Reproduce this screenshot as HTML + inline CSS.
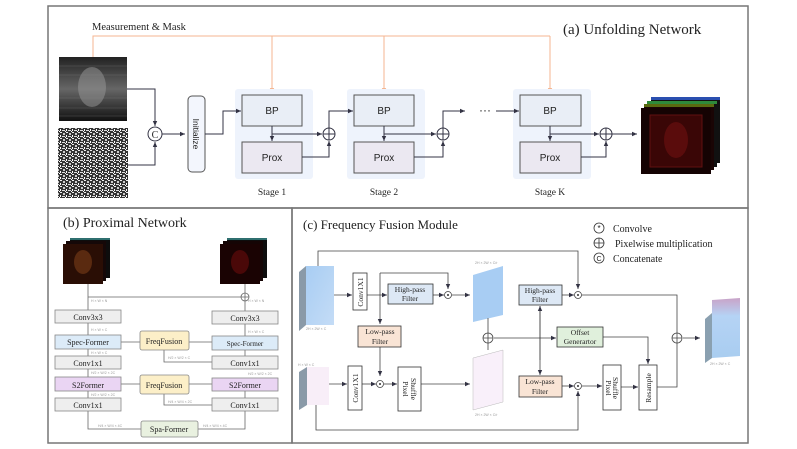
<!DOCTYPE html>
<html><head><meta charset="utf-8"><style>
html,body{margin:0;padding:0;background:#fff;}
svg{display:block}
.s{font-family:"Liberation Serif",serif;fill:#222}
.a{font-family:"Liberation Sans",sans-serif;fill:#222}
.t{font-family:"Liberation Sans",sans-serif;fill:#999;font-size:3.5px}
</style></head><body>
<svg width="797" height="449" viewBox="0 0 797 449" xmlns="http://www.w3.org/2000/svg">
<defs>
<marker id="ar" markerWidth="6" markerHeight="6" refX="5" refY="3" orient="auto" markerUnits="userSpaceOnUse"><path d="M0,0.8 L5,3 L0,5.2z" fill="#334"/></marker>
<marker id="ao" markerWidth="6" markerHeight="6" refX="5" refY="3" orient="auto" markerUnits="userSpaceOnUse"><path d="M0,0.8 L5,3 L0,5.2z" fill="#f4b590"/></marker>
<linearGradient id="dk" x1="0" y1="0" x2="0" y2="1"><stop offset="0" stop-color="#222"/><stop offset="0.5" stop-color="#666"/><stop offset="1" stop-color="#111"/></linearGradient>
<pattern id="nz" width="6" height="6" patternUnits="userSpaceOnUse"><rect width="6" height="6" fill="#333"/><rect width="2" height="1" fill="#eee"/><rect x="3" y="1" width="2" height="2" fill="#ccc"/><rect x="0" y="3" width="1" height="2" fill="#fff"/><rect x="2" y="4" width="3" height="1" fill="#ddd"/><rect x="5" y="5" width="1" height="1" fill="#fff"/></pattern>
<linearGradient id="bl" x1="0" y1="0" x2="1" y2="1"><stop offset="0" stop-color="#a8cdf3"/><stop offset="1" stop-color="#c4dcf6"/></linearGradient>
<linearGradient id="out" x1="0" y1="0" x2="0" y2="1"><stop offset="0" stop-color="#c9a3c8"/><stop offset="0.3" stop-color="#b5d3f5"/><stop offset="1" stop-color="#a9cdf0"/></linearGradient>
</defs>
<g fill="none" stroke="#777" stroke-width="1.5">
<rect x="48" y="6" width="700" height="202"/>
<rect x="48" y="208" width="244" height="235"/>
<rect x="292" y="208" width="456" height="235"/>
</g>
<!-- (a) -->
<text x="92" y="30" class="s" font-size="10.5">Measurement &amp; Mask</text>
<text x="563" y="34" class="s" font-size="15">(a) Unfolding  Network</text>
<g stroke="#f4b590" stroke-width="1" fill="none">
<path d="M93,57 V36 H550"/>
<path d="M272,36 V93" marker-end="url(#ao)"/>
<path d="M384,36 V93" marker-end="url(#ao)"/>
<path d="M550,36 V93" marker-end="url(#ao)"/>
</g>
<rect x="59" y="57" width="68" height="64" fill="url(#dk)"/>
<ellipse cx="92" cy="87" rx="14" ry="20" fill="#999" opacity="0.5"/>
<g stroke="#888" stroke-width="0.6" opacity="0.5"><path d="M59,66 H127 M59,75 H127 M59,98 H127 M59,108 H127 M59,116 H127"/></g>
<rect x="58" y="128" width="70" height="70" fill="url(#nz)"/>
<rect x="235" y="89" width="78" height="90" rx="3" fill="#eef3fc"/>
<rect x="347" y="89" width="78" height="90" rx="3" fill="#eef3fc"/>
<rect x="513" y="89" width="78" height="90" rx="3" fill="#eef3fc"/>
<g stroke="#555" stroke-width="1">
<rect x="188" y="96" width="17" height="76" rx="4" fill="#f3f6fd"/>
<rect x="242" y="95" width="60" height="31" fill="#e9eef6"/>
<rect x="242" y="142" width="60" height="31" fill="#ebe8f1"/>
<rect x="354" y="95" width="60" height="31" fill="#e9eef6"/>
<rect x="354" y="142" width="60" height="31" fill="#ebe8f1"/>
<rect x="520" y="95" width="61" height="31" fill="#e9eef6"/>
<rect x="520" y="142" width="61" height="31" fill="#ebe8f1"/>
</g>
<g class="a" font-size="10" text-anchor="middle">
<text x="272" y="114">BP</text><text x="272" y="161">Prox</text>
<text x="384" y="114">BP</text><text x="384" y="161">Prox</text>
<text x="550" y="114">BP</text><text x="550" y="161">Prox</text>
</g>
<text transform="translate(193,134) rotate(90)" class="a" font-size="8.5" text-anchor="middle">Initialize</text>
<g class="s" font-size="9.5" text-anchor="middle">
<text x="272" y="195">Stage 1</text><text x="384" y="195">Stage 2</text><text x="550" y="195">Stage K</text>
</g>
<g stroke="#334" stroke-width="1" fill="none">
<path d="M127,89 H155 V126" marker-end="url(#ar)"/>
<path d="M128,165 H155 V142" marker-end="url(#ar)"/>
<path d="M162,134 H185" marker-end="url(#ar)"/>
<path d="M205,134 H223 V111 H241" marker-end="url(#ar)"/>
<path d="M272,126 V141" marker-end="url(#ar)"/>
<path d="M272,134 H322" marker-end="url(#ar)"/>
<path d="M302,157 H329 V141" marker-end="url(#ar)"/>
<path d="M329,128 V111 H353" marker-end="url(#ar)"/>
<path d="M384,126 V141" marker-end="url(#ar)"/>
<path d="M384,134 H436" marker-end="url(#ar)"/>
<path d="M414,157 H443 V141" marker-end="url(#ar)"/>
<path d="M443,128 V111 H465" marker-end="url(#ar)"/>
<path d="M496,111 H519" marker-end="url(#ar)"/>
<path d="M550,126 V141" marker-end="url(#ar)"/>
<path d="M550,134 H599" marker-end="url(#ar)"/>
<path d="M581,157 H606 V141" marker-end="url(#ar)"/>
<path d="M612,134 H637" marker-end="url(#ar)"/>
<circle cx="155" cy="134" r="7" fill="#fff"/>
<circle cx="329" cy="134" r="6" fill="#fff"/><path d="M323,134 H335 M329,128 V140"/>
<circle cx="443" cy="134" r="6" fill="#fff"/><path d="M437,134 H449 M443,128 V140"/>
<circle cx="606" cy="134" r="6" fill="#fff"/><path d="M600,134 H612 M606,128 V140"/>
</g>
<text x="155" y="138" class="s" font-size="10" text-anchor="middle">C</text>
<text x="485" y="114" class="a" font-size="12" text-anchor="middle">···</text>
<g>
<rect x="651" y="97" width="69" height="66" fill="#111"/><rect x="651" y="97" width="69" height="3" fill="#2a4fb0"/>
<rect x="647" y="101" width="70" height="66" fill="#111"/><rect x="647" y="101" width="70" height="3" fill="#2e8a3a"/>
<rect x="644" y="104" width="70" height="66" fill="#1a0505"/><rect x="644" y="104" width="70" height="3" fill="#5a6a10"/>
<rect x="641" y="108" width="70" height="66" fill="#150303"/>
<rect x="650" y="115" width="52" height="52" fill="#3a0606" stroke="#601010"/>
<ellipse cx="676" cy="140" rx="12" ry="18" fill="#5a0c0c"/>
</g>
<!-- (b) -->
<text x="63" y="227" class="s" font-size="14">(b) Proximal Network</text>
<g>
<rect x="70" y="238" width="40" height="40" fill="#0d0d0d"/><rect x="70" y="238" width="40" height="2" fill="#2f6f6f"/>
<rect x="66" y="241" width="40" height="40" fill="#150808"/>
<rect x="63" y="244" width="40" height="40" fill="#2a0e05"/><ellipse cx="83" cy="262" rx="9" ry="12" fill="#5a2a10"/>
<rect x="227" y="238" width="40" height="40" fill="#0d0d0d"/><rect x="227" y="238" width="40" height="2" fill="#2f6f6f"/>
<rect x="223" y="241" width="40" height="40" fill="#150505"/>
<rect x="220" y="244" width="40" height="40" fill="#1a0303"/><ellipse cx="240" cy="262" rx="9" ry="12" fill="#4a0808"/>
</g>
<g stroke="#666" stroke-width="0.8" fill="none">
<path d="M88,284 V310 M88,297 H241 M245,293 V284"/>
<circle cx="245" cy="297" r="4" fill="#fff"/><path d="M241,297 H249 M245,293 V301 M245,301 V312"/>
<path d="M88,323 V335 M88,349 V356 M88,369 V377 M88,391 V398 M88,411 V429 H141 M198,429 H245 V411"/>
<path d="M121,342 H140 M189,342 H212 M164,350 V362 H212 M245,356 V350 M245,324 V336 M245,391 V398"/>
<path d="M121,384 H140 M189,384 H212 M164,394 V405 H212"/>
</g>
<g stroke="#888" stroke-width="0.8">
<rect x="55" y="310" width="66" height="13" fill="#eeeeee"/>
<rect x="55" y="335" width="66" height="14" fill="#dcebf8"/>
<rect x="55" y="356" width="66" height="13" fill="#eeeeee"/>
<rect x="55" y="377" width="66" height="14" fill="#ead5f3"/>
<rect x="55" y="398" width="66" height="13" fill="#eeeeee"/>
<rect x="212" y="311" width="66" height="13" fill="#eeeeee"/>
<rect x="212" y="336" width="66" height="14" fill="#dcebf8"/>
<rect x="212" y="356" width="66" height="13" fill="#eeeeee"/>
<rect x="212" y="378" width="66" height="13" fill="#ead5f3"/>
<rect x="212" y="398" width="66" height="13" fill="#eeeeee"/>
<rect x="140" y="331" width="49" height="19" rx="2" fill="#fcefc8"/>
<rect x="140" y="375" width="49" height="19" rx="2" fill="#fcefc8"/>
<rect x="141" y="421" width="57" height="16" rx="2" fill="#e9f1e0"/>
</g>
<g class="s" font-size="8" text-anchor="middle">
<text x="88" y="320">Conv3x3</text><text x="88" y="345">Spec-Former</text><text x="88" y="366">Conv1x1</text>
<text x="88" y="388">S2Former</text><text x="88" y="408">Conv1x1</text>
<text x="245" y="321">Conv3x3</text><text x="245" y="346" font-size="7">Spec-Former</text><text x="245" y="366">Conv1x1</text>
<text x="245" y="388">S2Former</text><text x="245" y="408">Conv1x1</text>
<text x="164" y="344">FreqFusion</text><text x="164" y="388">FreqFusion</text><text x="169" y="432">Spa-Former</text>
</g>
<g class="t"><text x="91" y="302">H × W × N</text><text x="91" y="331">H × W × C</text><text x="91" y="354">H × W × C</text><text x="91" y="374">H/2 × W/2 × 2C</text><text x="91" y="396">H/2 × W/2 × 2C</text><text x="98" y="427">H/4 × W/4 × 4C</text>
<text x="248" y="302">H × W × N</text><text x="248" y="333">H × W × C</text><text x="168" y="359">H/2 × W/2 × C</text><text x="248" y="375">H/2 × W/2 × 2C</text><text x="168" y="403">H/4 × W/4 × 2C</text><text x="203" y="427">H/4 × W/4 × 4C</text></g>
<!-- (c) -->
<text x="303" y="229" class="s" font-size="13">(c) Frequency Fusion Module</text>
<g stroke="#333" stroke-width="0.8" fill="none">
<circle cx="599" cy="228" r="5"/><circle cx="599" cy="243" r="5"/><path d="M594,243 H604 M599,238 V248"/><circle cx="599" cy="258" r="5"/>
</g>
<text x="599" y="231" class="a" font-size="8" text-anchor="middle">*</text>
<text x="599" y="261" class="a" font-size="7" text-anchor="middle">C</text>
<g class="s" font-size="10"><text x="613" y="232">Convolve</text><text x="615" y="247">Pixelwise multiplication</text><text x="613" y="262">Concatenate</text></g>
<!-- slabs -->
<polygon points="299,272 306,266 306,325 299,331" fill="#8a9aa8"/>
<polygon points="306,266 334,266 334,325 306,325" fill="url(#bl)"/>
<polygon points="299,372 307,367 307,405 299,410" fill="#8a9aa8"/>
<polygon points="307,367 329,367 329,405 307,405" fill="#f8eef8"/>
<polygon points="473,275 503,266 503,315 473,322" fill="#a8cdf3"/>
<polygon points="473,358 503,350 503,402 473,410" fill="#f9f0fa" stroke="#bbb" stroke-width="0.5"/>
<polygon points="705,319 712,313 712,358 705,363" fill="#8aa0b0"/>
<polygon points="712,300 740,298 740,356 712,358" fill="url(#out)"/>
<g class="t"><text x="306" y="330">2H × 2W × C</text><text x="298" y="366">H × W × C</text><text x="475" y="264">2H × 2W × C/r</text><text x="475" y="416">2H × 2W × C/r</text><text x="710" y="365">2H × 2W × C</text></g>
<g stroke="#444" stroke-width="0.8" fill="none">
<path d="M318,266 V251 H578 V289" marker-end="url(#ar)"/>
<path d="M334,295 H352" marker-end="url(#ar)"/>
<path d="M367,295 H387" marker-end="url(#ar)"/>
<path d="M380,273 H448 V289" marker-end="url(#ar)"/>
<path d="M380,273 V324" marker-end="url(#ar)"/>
<path d="M433,295 H444" marker-end="url(#ar)"/>
<path d="M452,295 H470" marker-end="url(#ar)"/>
<path d="M380,347 V376" marker-end="url(#ar)"/>
<path d="M329,384 H347" marker-end="url(#ar)"/>
<path d="M362,384 H376" marker-end="url(#ar)"/>
<path d="M384,384 H397" marker-end="url(#ar)"/>
<path d="M421,384 H470" marker-end="url(#ar)"/>
<path d="M488,318 V333 M488,343 V350"/>
<path d="M494,338 H556" marker-end="url(#ar)"/>
<path d="M540,306 V375" marker-end="url(#ar)"/>
<path d="M540,360 V306" marker-end="url(#ar)"/>
<path d="M562,295 H574" marker-end="url(#ar)"/>
<path d="M582,295 H677 V333"/>
<path d="M562,386 H574" marker-end="url(#ar)"/>
<path d="M582,386 H602" marker-end="url(#ar)"/>
<path d="M621,387 H638" marker-end="url(#ar)"/>
<path d="M603,337 H648 V364" marker-end="url(#ar)"/>
<path d="M657,387 H677 V343"/>
<path d="M683,338 H700" marker-end="url(#ar)"/>
<path d="M316,405 V430 H578 V391" marker-end="url(#ar)"/>
<circle cx="448" cy="295" r="3.5" fill="#fff"/><circle cx="380" cy="384" r="3.5" fill="#fff"/>
<circle cx="578" cy="295" r="3.5" fill="#fff"/><circle cx="578" cy="386" r="3.5" fill="#fff"/>
<circle cx="488" cy="338" r="5" fill="#fff"/><path d="M483,338 H493 M488,333 V343"/>
<circle cx="677" cy="338" r="5" fill="#fff"/><path d="M672,338 H682 M677,333 V343"/>
</g>
<g fill="#333"><circle cx="448" cy="295" r="1"/><circle cx="380" cy="384" r="1"/><circle cx="578" cy="295" r="1"/><circle cx="578" cy="386" r="1"/></g>
<g stroke="#333" stroke-width="0.8">
<rect x="353" y="273" width="14" height="37" fill="#fff"/>
<rect x="348" y="366" width="14" height="44" fill="#fff"/>
<rect x="398" y="367" width="23" height="44" fill="#fff"/>
<rect x="603" y="365" width="18" height="45" fill="#fff"/>
<rect x="639" y="365" width="18" height="45" fill="#fff"/>
<rect x="388" y="284" width="45" height="20" fill="#dde8f5"/>
<rect x="519" y="285" width="43" height="20" fill="#dde8f5"/>
<rect x="358" y="326" width="43" height="21" fill="#f9e4d5"/>
<rect x="519" y="376" width="43" height="21" fill="#f9e4d5"/>
<rect x="557" y="327" width="46" height="20" fill="#e0f0dc"/>
</g>
<g class="s" font-size="7.5" text-anchor="middle">
<text x="410" y="292">High-pass</text><text x="410" y="301">Filter</text>
<text x="540" y="293">High-pass</text><text x="540" y="302">Filter</text>
<text x="380" y="334">Low-pass</text><text x="380" y="344">Filter</text>
<text x="540" y="384">Low-pass</text><text x="540" y="394">Filter</text>
<text x="580" y="335">Offset</text><text x="580" y="344">Generartor</text>
</g>
<g class="s" font-size="7.5" text-anchor="middle">
<text transform="translate(363,292) rotate(-90)">Conv1X1</text>
<text transform="translate(358,388) rotate(-90)">Conv1X1</text>
<text transform="translate(403,389) rotate(90)">Pixel</text>
<text transform="translate(411,389) rotate(90)">Shuffle</text>
<text transform="translate(606,388) rotate(90)">Pixel</text>
<text transform="translate(613,388) rotate(90)">Shuffle</text>
<text transform="translate(651,388) rotate(-90)">Resample</text>
</g>
</svg>
</body></html>
